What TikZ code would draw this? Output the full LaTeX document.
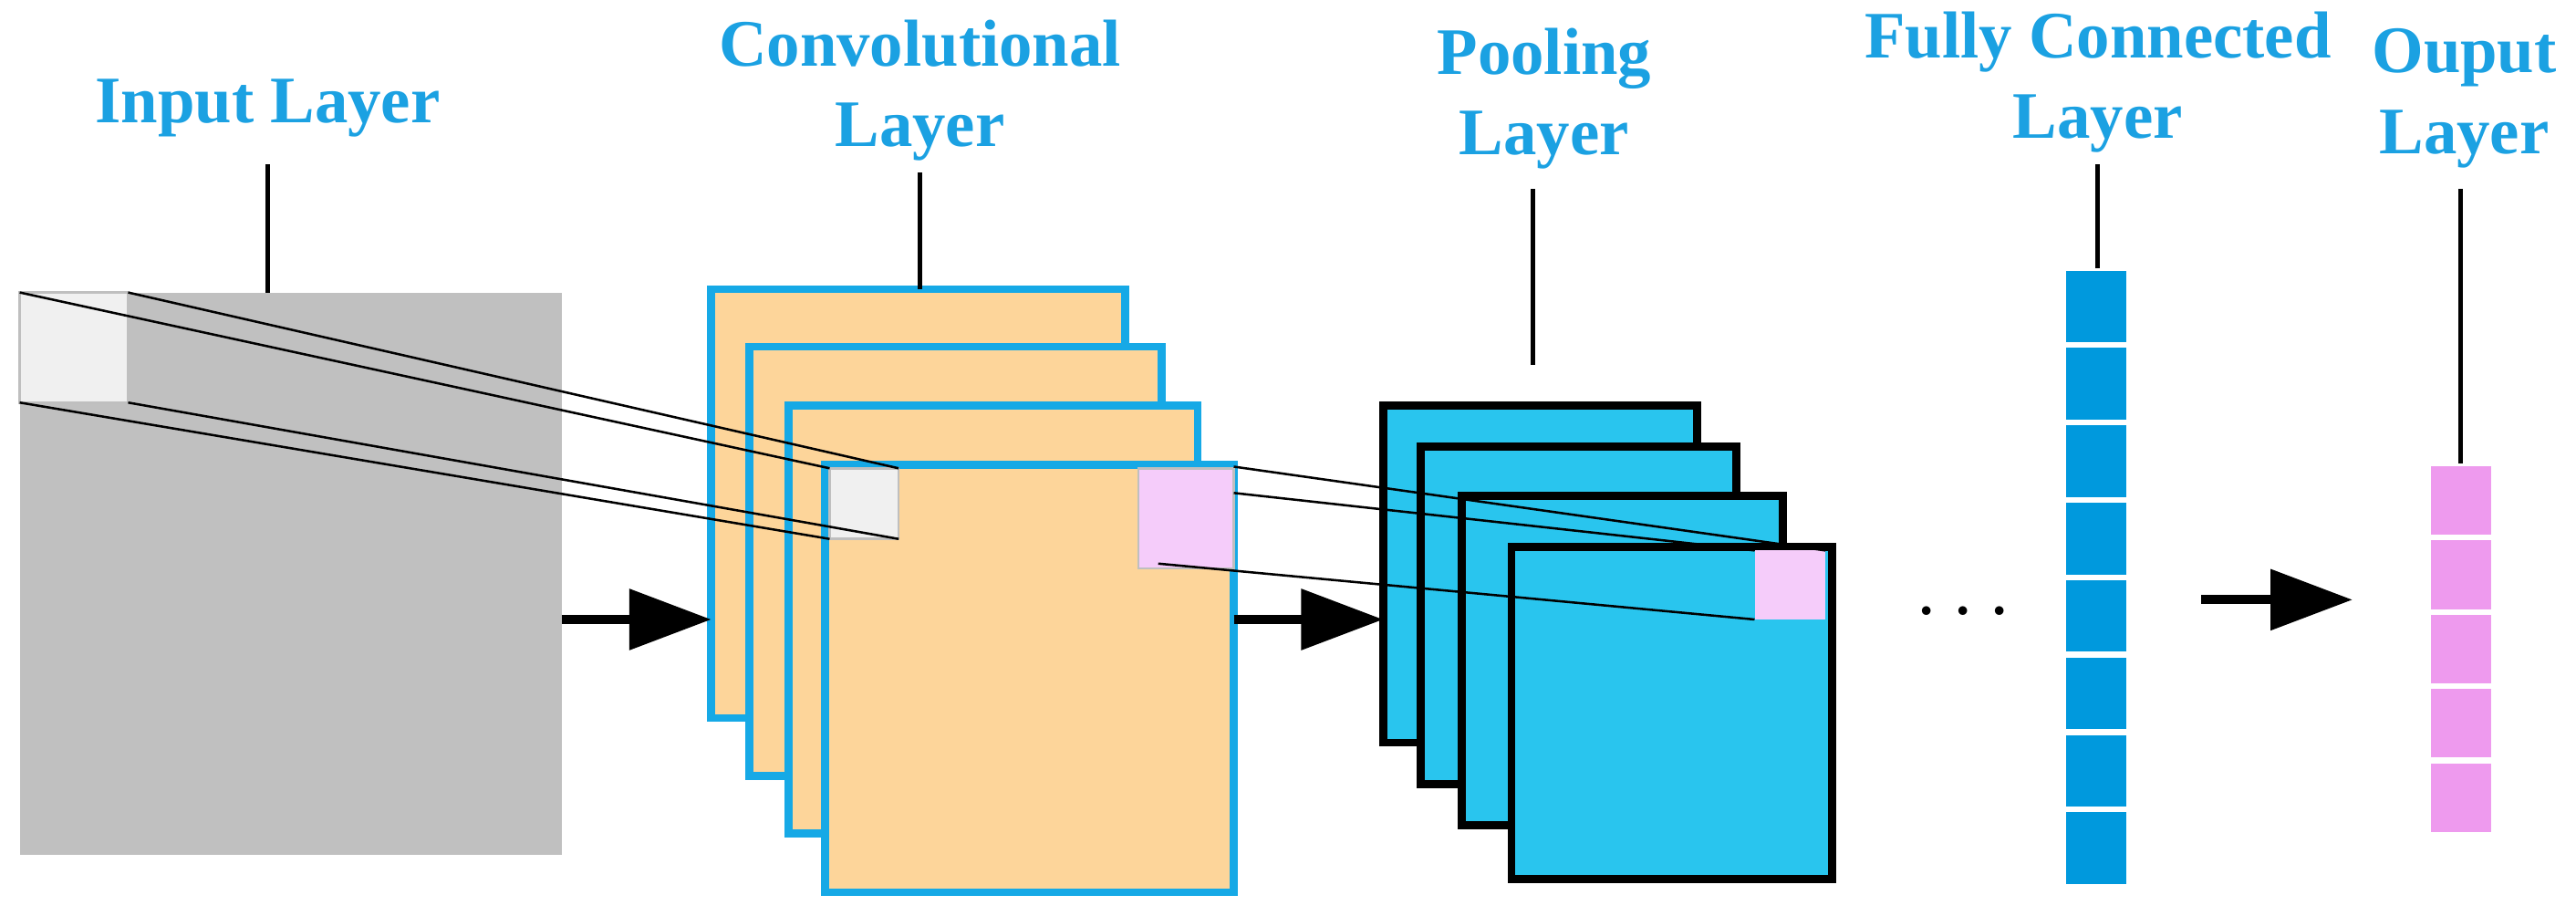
\documentclass[tikz,border=0pt]{standalone}
\usepackage{fontspec}
\setmainfont{Liberation Serif}
\usetikzlibrary{arrows.meta}
\definecolor{txtblue}{HTML}{1BA1E2}
\definecolor{inpgray}{HTML}{C0C0C0}
\definecolor{convfill}{HTML}{FDD59A}
\definecolor{convline}{HTML}{16A9E6}
\definecolor{poolfill}{HTML}{29C5EE}
\definecolor{fcfill}{HTML}{0099DD}
\definecolor{outfill}{HTML}{EE9AEE}
\definecolor{patchpink}{HTML}{F5CCFA}
\begin{document}
\begin{tikzpicture}[x=0.1mm,y=-0.1mm]
  \tikzstyle{layer label}=[text=txtblue,font=\fontsize{11.5}{14}\selectfont\bfseries,align=center]
  \tikzstyle{stem}=[thick]
  \tikzstyle{conv map}=[draw=convline,line width=1.4pt,fill=convfill]
  \tikzstyle{pool map}=[draw=black,line width=1.4pt,fill=poolfill]
  \tikzstyle{flow}=[line width=1.6pt,-{Triangle[length=5mm,width=3.6mm]}]
  \tikzstyle{cell}=[draw=white,line width=1pt,minimum width=4mm,inner sep=0]
  \useasboundingbox (0,0) rectangle (1568,557);

  % input layer
  \fill[inpgray] (12,178) rectangle (342,520);
  \draw[lightgray,fill=black!6] (12,178) rectangle (78,245);
  \node[layer label] (inlbl) at (163,66) {Input Layer};
  \draw[stem] (163,100) -- (163,178);

  % convolutional layer
  \draw[conv map] (433,176) rectangle (685,437);
  \draw[conv map] (456,211) rectangle (707,472);
  \draw[conv map] (480,247) rectangle (729,507);
  \draw[conv map] (502,283) rectangle (751,543);
  \draw[lightgray,fill=black!6] (505,285) rectangle (547,328);
  \draw[lightgray,fill=patchpink] (693,285) rectangle (751,346);
  \node[layer label] (convlbl) at (560,55) {Convolutional\\Layer};
  \draw[stem] (560,105) -- (560,176);

  % receptive field
  \draw (12,178) -- (505,285);
  \draw (78,178) -- (547,285);
  \draw (12,245) -- (505,328);
  \draw (78,245) -- (547,328);

  % pooling layer
  \draw[pool map] (842,247) rectangle (1033,452);
  \draw[pool map] (865,272) rectangle (1057,477);
  \draw[pool map] (890,302) rectangle (1085,502);
  \draw[pool map] (920,333) rectangle (1115,535);
  \fill[patchpink] (1068,335) rectangle (1111,377);
  \node[layer label] (poollbl) at (940,60) {Pooling\\Layer};
  \draw[stem] (933,115) -- (933,222);

  \draw (751,284) -- (1111,335);
  \draw (751,300) -- (1068,335);
  \draw (705,343) -- (1068,377);

  % fully connected
  \foreach \i in {0,...,7}
    \node[cell,fill=fcfill,minimum height=4.71mm] (fc\i) at (1276,{186.5+47.1*\i}) {};
  \node[layer label] (fclbl) at (1277,50) {Fully Connected\\Layer};
  \draw[stem] (1277,100) -- (1277,163);

  % output
  \foreach \i in {0,...,4}
    \node[cell,fill=outfill,minimum height=4.52mm] (out\i) at (1498,{304.6+45.2*\i}) {};
  \node[layer label] (outlbl) at (1500,60) {Ouput\\Layer};
  \draw[stem] (1498,115) -- (1498,282);

  % flow
  \coordinate (a1) at (342,377); \coordinate (a2) at (433,377);
  \coordinate (b1) at (751,377); \coordinate (b2) at (842,377);
  \coordinate (c1) at (1340,365); \coordinate (c2) at (1432,365);
  \draw[flow] (a1) -- (a2);
  \draw[flow] (b1) -- (b2);
  \draw[flow] (c1) -- (c2);
  \node (dots) at (1195,373) {\Large$\cdots$};
\end{tikzpicture}
\end{document}
